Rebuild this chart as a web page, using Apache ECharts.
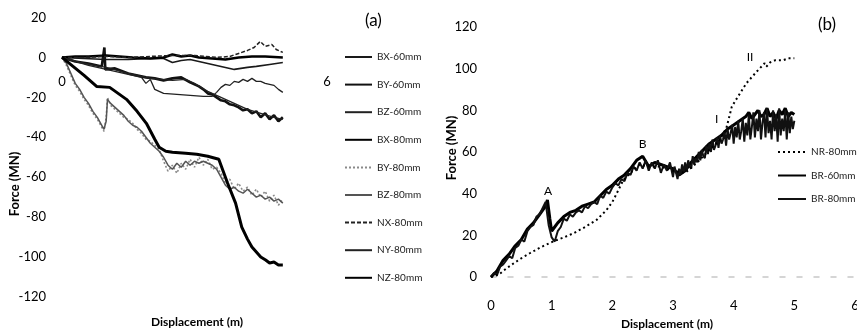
<!DOCTYPE html>
<html><head><meta charset="utf-8">
<script src="https://cdn.jsdelivr.net/npm/echarts@6/dist/echarts.min.js"></script>
<style>html,body{margin:0;padding:0;background:#fff}#c{width:857px;height:332px}</style>
</head><body><div id="c"></div><script>
// ---------- Panel (a) data ----------
const xTicksA = ['0', '', '', '', '', '', '6'];
const yTicksA = [-120, -100, -80, -60, -40, -20, 0, 20];

const bx60X = [0,0.5,1.0,1.5,2.0,2.3,2.5,2.7,2.9,3.1,3.3,3.6,3.9,4.2,4.4,4.7,5.0];
const bx60Y = [0,-0.5,-1,-1,-0.5,-0.5,-2.5,-1.5,-1,-2,-3,-4.5,-6,-5,-4.5,-3.5,-2.5];

const by60X = [0,0.3,0.6,0.9,0.96,0.98,1.0,1.2,1.5,1.9,2.1,2.3,2.5,2.7,2.9,3.1,3.2,3.3,3.4,3.5,3.6,3.7,3.8,3.9,4.0,4.1,4.2,4.3,4.4,4.5,4.6,4.7,4.8,4.9,5.0];
const by60Y = [0,-2,-3,-4.5,5,-6,-5,-5.5,-8,-10,-10.5,-11.5,-10.5,-10,-12.5,-14.5,-16,-18,-18.5,-20,-21.5,-22,-23.5,-24,-25,-26.5,-26,-28,-27,-30,-28,-31,-29,-32,-30];

const bz60X = [0,0.3,0.6,0.9,1.2,1.5,1.8,1.9,2.0,2.1,2.3,2.6,2.9,3.2,3.4,3.5,3.6,3.7,3.8,3.9,4.0,4.1,4.2,4.3,4.4,4.5,4.6,4.7,4.8,4.9,5.0];
const bz60Y = [0,-2,-4,-5.5,-7,-8.5,-10,-13,-11,-16,-18,-18.5,-19,-19.5,-19.5,-17.5,-15,-13.5,-14,-12,-12.5,-11,-12,-10.5,-12,-12,-13,-13.5,-14,-16,-17.5];

const bx80X = [0,0.3,0.6,1.0,1.3,1.6,2.0,2.3,2.5,2.7,2.9,3.1,3.4,3.7,4.0,4.3,4.6,5.0];
const bx80Y = [0,0.5,0.5,1,0.5,0,-0.5,0,1.5,0.5,1,0,-0.5,-1,0,0.5,0.5,0];

const by80X = [0,0.1,0.2,0.3,0.4,0.5,0.6,0.7,0.8,0.9,0.95,1.0,1.03,1.1,1.2,1.3,1.4,1.5,1.6,1.7,1.8,1.9,2.0,2.1,2.2,2.3,2.4,2.5,2.6,2.7,2.8,2.9,3.0,3.1,3.2,3.3,3.4,3.5,3.6,3.7,3.8,3.9,4.0,4.1,4.2,4.3,4.4,4.5,4.6,4.7,4.8,4.9,5.0];
const by80Y = [0,-4,-9,-14,-17,-21,-24,-28,-31,-35,-37,-30,-20,-24,-26,-28,-30,-31,-33,-36,-38,-41,-42,-44,-46,-52,-57,-54,-58,-53,-56,-51,-55,-50,-54,-51,-56,-55,-58,-63,-61,-66,-63,-67,-65,-69,-66,-70,-67,-72,-69,-74,-71];

const bz80X = by80X;
const bz80Y = [0,-3,-8,-13,-16,-20,-23,-27,-30,-34,-36,-32,-21,-23,-25,-27,-29,-32,-34,-35,-37,-40,-43,-45,-47,-50,-54,-56,-53,-55,-52,-54,-52,-53,-52,-53,-54,-56,-60,-64,-66,-65,-67,-68,-66,-68,-70,-69,-71,-70,-72,-71,-73];

const nx80X = [0,0.5,1.0,1.5,2.0,2.5,3.0,3.5,3.8,4.0,4.2,4.35,4.49,4.6,4.75,4.85,5.0];
const nx80Y = [0,0,0.5,0,0.5,1,1,0,0.5,2,3.5,5,8,5.5,6.5,4,2.5];

const ny80X = [0,0.5,1.0,1.5,2.0,2.5,2.8,3.0,3.3,3.6,3.9,4.2,4.5,4.8,5.0];
const ny80Y = [0,-3,-5,-8,-10.5,-11.5,-11,-13,-17,-20,-23,-26,-28,-30,-31];

const nz80X = [0,0.25,0.5,0.79,1.08,1.46,1.7,1.91,2.1,2.2,2.35,2.5,2.8,3.05,3.3,3.55,3.65,3.75,3.93,4.07,4.2,4.3,4.38,4.5,4.61,4.7,4.8,4.9,5.0];
const nz80Y = [0,-4.5,-9,-14.6,-15,-21,-27,-33,-41,-45,-47,-47.5,-48,-48.5,-49.5,-51,-57,-63,-73,-85,-91,-95,-97,-100,-101.5,-103,-102.5,-104,-104];

// ---------- Panel (b) data ----------
const xTicksB = ['0', '1', '2', '3', '4', '5', '6'];
const yTicksB = [0, 20, 40, 60, 80, 100, 120];

const nr80X = [0,0.12,0.25,0.37,0.5,0.64,0.8,1.02,1.2,1.36,1.55,1.74,1.9,2.0,2.07,2.18,2.3,2.45,2.6,2.8,3.0,3.2,3.4,3.6,3.75,3.88,3.97,4.07,4.21,4.38,4.51,4.54,4.6,4.68,4.81,4.9,5.0];
const nr80Y = [0,1,4,6.5,9,11.4,14,17,19,21,24,27.4,32,36,40,46.5,50,54,53,53,51,50,55,61,65,71.5,81.8,86.6,93,98.6,102.6,101,103,104,104,105,105];

const br60X = [0,0.1,0.2,0.3,0.4,0.5,0.6,0.7,0.8,0.9,0.93,0.97,1.0,1.05,1.1,1.2,1.3,1.4,1.5,1.6,1.7,1.8,1.9,2.0,2.1,2.2,2.3,2.4,2.5,2.6,2.7,2.8,2.9,3.0,3.1,3.2,3.3,3.4,3.5,3.6,3.7,3.8,3.9,4.0,4.1,4.2,4.25,4.3,4.35,4.4,4.45,4.5,4.55,4.6,4.65,4.7,4.75,4.8,4.85,4.9,4.95,5.0];
const br60Y = [0,3,8,11,15,18,23,26,30,34,37,28,22,24,26,29,31,32,34,35,36,39,42,44,47,49,52,56,58,53,55,54,53,52,49,51,55,58,61,64,66,68,71,73,75,77,79,76,78,80,77,78,81,77,79,76,80,78,81,77,79,78];

const br80X = [0,0.05,0.1,0.15,0.2,0.25,0.3,0.35,0.4,0.45,0.5,0.55,0.6,0.65,0.7,0.75,0.8,0.85,0.9,0.95,1.0,1.05,1.1,1.15,1.2,1.25,1.3,1.35,1.4,1.45,1.5,1.55,1.6,1.65,1.7,1.75,1.8,1.85,1.9,1.95,2.0,2.05,2.1,2.15,2.2,2.25,2.3,2.35,2.4,2.45,2.5,2.55,2.6,2.65,2.7,2.75,2.8,2.85,2.9,2.95,
  3.0,3.025,3.05,3.075,3.1,3.125,3.15,3.175,3.2,3.225,3.25,3.275,3.3,3.325,3.35,3.375,3.4,3.425,3.45,3.475,3.5,3.525,3.55,3.575,3.6,3.625,3.65,3.675,3.7,3.725,3.75,3.775,3.8,3.825,3.85,3.875,3.9,3.925,3.95,3.975,
  4.0,4.025,4.05,4.075,4.1,4.125,4.15,4.175,4.2,4.225,4.25,4.275,4.3,4.325,4.35,4.375,4.4,4.425,4.45,4.475,4.5,4.525,4.55,4.575,4.6,4.625,4.65,4.675,4.7,4.725,4.75,4.775,4.8,4.825,4.85,4.875,4.9,4.925,4.95,4.975,5.0];
const br80Y = [0,2,1,5,6,8,10,9,14,15,18,17,22,24,25,29,30,33,36,25,19,17,22,24,28,27,30,29,31,32,31,34,33,35,36,35,39,38,41,40,43,45,44,47,46,50,49,53,51,55,52,56,51,55,52,56,50,54,51,55,
  48,53,50,47,52,49,54,50,55,51,56,53,52,58,54,57,55,60,56,61,58,57,63,59,64,60,66,61,63,67,62,68,64,66,70,63,71,66,69,73,
  64,72,67,75,66,70,76,65,74,68,78,66,72,79,67,76,70,80,66,74,79,67,81,69,75,66,80,70,78,65,81,68,76,70,80,66,79,69,77,71,75];

const annoLabels = ['A', 'B', 'I', 'II'];
const annoX = [0.94, 2.5, 3.72, 4.27];
const annoY = [41, 64, 76, 105.5];

// ---------- build ----------
const zip = (xs, ys) => xs.map((x, i) => [x, ys[i]]);
const FONT = 'Lato, "Open Sans", sans-serif';

function lineSeries(name, xs, ys, gi, color, width, type, z) {
  return {
    name, type: 'line', xAxisIndex: gi, yAxisIndex: gi,
    data: zip(xs, ys), symbol: 'none', showSymbol: false,
    lineStyle: { color, width, type: type || 'solid' },
    itemStyle: { color },
    z: z || 2, silent: true, animation: false
  };
}

const seriesA = [
  lineSeries('BX-60mm', bx60X, bx60Y, 0, '#1a1a1a', 1.6),
  lineSeries('BY-60mm', by60X, by60Y, 0, '#111', 2.6),
  lineSeries('BZ-60mm', bz60X, bz60Y, 0, '#222', 1.3),
  lineSeries('BX-80mm', bx80X, bx80Y, 0, '#000', 2.6),
  lineSeries('BY-80mm', by80X, by80Y, 0, '#8a8a8a', 1.6, [2, 2]),
  lineSeries('BZ-80mm', bz80X, bz80Y, 0, '#555', 1.5),
  lineSeries('NX-80mm', nx80X, nx80Y, 0, '#222', 1.5, [4, 2]),
  lineSeries('NY-80mm', ny80X, ny80Y, 0, '#222', 1.3),
  lineSeries('NZ-80mm', nz80X, nz80Y, 0, '#000', 3, 'solid', 3)
];

const br60 = lineSeries('BR-60mm', br60X, br60Y, 1, '#000', 3);
br60.markPoint = {
  symbol: 'circle', symbolSize: 1, silent: true,
  itemStyle: { color: 'rgba(0,0,0,0)' },
  label: { show: true, position: 'inside', formatter: '{b}', color: '#000', fontSize: 12, fontFamily: FONT },
  data: annoLabels.map((t, i) => ({ name: t, coord: [annoX[i], annoY[i]] }))
};
const seriesB = [
  lineSeries('NR-80mm', nr80X, nr80Y, 1, '#000', 2, [2, 3], 3),
  br60,
  lineSeries('BR-80mm', br80X, br80Y, 1, '#111', 2)
];

const axisLabelBase = { color: '#000', fontSize: 13, fontFamily: FONT };
const hiddenSymbol = { color: 'rgba(0,0,0,0)', borderColor: 'rgba(0,0,0,0)', borderWidth: 0, opacity: 0 };

const option = {
  animation: false,
  backgroundColor: '#fff',
  grid: [
    { left: 62, top: 17.5, width: 265, height: 279.5, containLabel: false, outerBoundsMode: 'none' },
    { left: 491, top: 27, width: 364, height: 250, containLabel: false, outerBoundsMode: 'none' }
  ],
  xAxis: [
    { type: 'value', gridIndex: 0, min: 0, max: 6, interval: 1, position: 'bottom', offset: -239.57,
      axisLine: { show: false, onZero: false },
      axisTick: { show: false }, splitLine: { show: false },
      axisLabel: Object.assign({}, axisLabelBase, { margin: 18, formatter: v => xTicksA[Math.round(v)] }) },
    { type: 'value', gridIndex: 1, min: 0, max: 6, interval: 1,
      axisLine: { show: true, onZero: false, lineStyle: { color: '#c8c8c8', width: 1.5, type: [5, 12] } },
      axisTick: { show: false }, splitLine: { show: false },
      axisLabel: Object.assign({}, axisLabelBase, { margin: 22, formatter: v => xTicksB[Math.round(v)] }) }
  ],
  yAxis: [
    { type: 'value', gridIndex: 0, min: yTicksA[0], max: yTicksA[yTicksA.length - 1], interval: 20,
      axisLine: { show: false }, axisTick: { show: false }, splitLine: { show: false },
      axisLabel: Object.assign({}, axisLabelBase, { margin: 16 }) },
    { type: 'value', gridIndex: 1, min: yTicksB[0], max: yTicksB[yTicksB.length - 1], interval: 20,
      axisLine: { show: false }, axisTick: { show: false }, splitLine: { show: false },
      axisLabel: Object.assign({}, axisLabelBase, { margin: 14 }) }
  ],
  legend: [
    { data: seriesA.map(s => s.name), orient: 'vertical', left: 344, top: 52, padding: 0,
      itemWidth: 27, itemHeight: 10, itemGap: 17.6, selectedMode: false, itemStyle: hiddenSymbol,
      textStyle: { color: '#222', fontSize: 10, fontFamily: FONT } },
    { data: seriesB.map(s => s.name), orient: 'vertical', left: 777, top: 147, padding: 0,
      itemWidth: 28, itemHeight: 10, itemGap: 13.5, selectedMode: false, itemStyle: hiddenSymbol,
      textStyle: { color: '#222', fontSize: 10, fontFamily: FONT } }
  ],
  graphic: [
    { type: 'text', left: 365, top: 12, style: { text: '(a)', fontSize: 17, fontFamily: FONT, fill: '#000' } },
    { type: 'text', left: 818, top: 16, style: { text: '(b)', fontSize: 17, fontFamily: FONT, fill: '#000' } },
    { type: 'text', x: 197, y: 322, style: { text: 'Displacement (m)', fontSize: 12, fontWeight: 'bold', fontFamily: FONT, fill: '#000', align: 'center', verticalAlign: 'middle' } },
    { type: 'text', x: 667, y: 324, style: { text: 'Displacement (m)', fontSize: 12, fontWeight: 'bold', fontFamily: FONT, fill: '#000', align: 'center', verticalAlign: 'middle' } },
    { type: 'text', x: 15, y: 184, rotation: Math.PI / 2, style: { text: 'Force (MN)', fontSize: 13, fontWeight: 'bold', fontFamily: FONT, fill: '#000', align: 'center', verticalAlign: 'middle' } },
    { type: 'text', x: 452, y: 148, rotation: Math.PI / 2, style: { text: 'Force (MN)', fontSize: 13, fontWeight: 'bold', fontFamily: FONT, fill: '#000', align: 'center', verticalAlign: 'middle' } }
  ],
  series: seriesA.concat(seriesB)
};

const chart = echarts.init(document.getElementById('c'), null, { renderer: 'canvas' });
chart.setOption(option);
</script></body></html>
